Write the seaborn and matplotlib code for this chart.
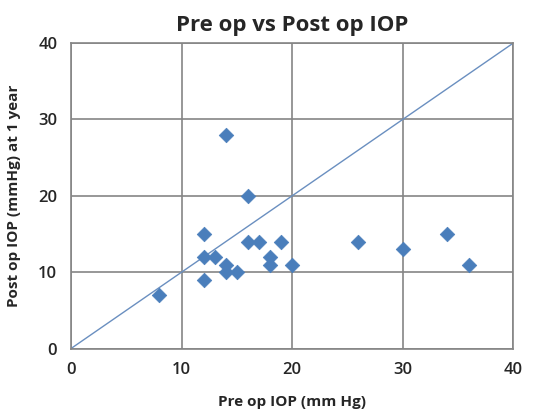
import numpy as np
import pandas as pd
import matplotlib
matplotlib.use('Agg')
import matplotlib.pyplot as plt
import seaborn as sns

# Pre op vs post op IOP (mmHg)
pre_op = [8, 12, 12, 12, 13, 14, 14, 14, 15, 16, 16, 17, 18, 18, 19, 20, 26, 30, 34, 36]
post_op = [7, 15, 12, 9, 12, 11, 10, 28, 10, 20, 14, 14, 12, 11, 14, 11, 14, 13, 15, 11]
ref_line = [0, 40]
ticks = [0, 10, 20, 30, 40]

df = pd.DataFrame({'pre': pre_op, 'post': post_op})

sns.set_style('white')
plt.rcParams['font.family'] = ['Open Sans', 'DejaVu Sans']

fig = plt.figure(figsize=(5.34, 4.11), dpi=100)
ax = fig.add_axes([0.133, 0.152, 0.828, 0.743])

# y = x reference line
ax.plot(ref_line, ref_line, color='#6a8fc0', lw=1.0, zorder=2)

sns.scatterplot(data=df, x='pre', y='post', marker='D', s=55, color='#4a7ebb',
                edgecolor='#4a7ebb', linewidth=0.5, ax=ax, zorder=3)

ax.set_xlim(0, 40)
ax.set_ylim(0, 40)
ax.set_xticks(ticks)
ax.set_yticks(ticks)
ax.grid(True, color='#858585', lw=1.2)
ax.set_axisbelow(True)
for s in ax.spines.values():
    s.set_color('#858585')
    s.set_linewidth(1.2)
ax.tick_params(axis='both', direction='out', length=5, width=1.2, color='#858585',
               labelsize=12, pad=5)
for lbl in ax.get_xticklabels() + ax.get_yticklabels():
    lbl.set_fontweight('semibold')

ax.set_xlabel('Pre op IOP (mm Hg)', fontsize=11, fontweight='bold', labelpad=12)
ax.set_ylabel('Post op IOP (mmHg) at 1 year', fontsize=11, fontweight='bold', labelpad=12)
ax.set_title('Pre op vs Post op IOP', fontsize=16, fontweight='bold', pad=9)

fig.savefig('out.png', dpi=100)
